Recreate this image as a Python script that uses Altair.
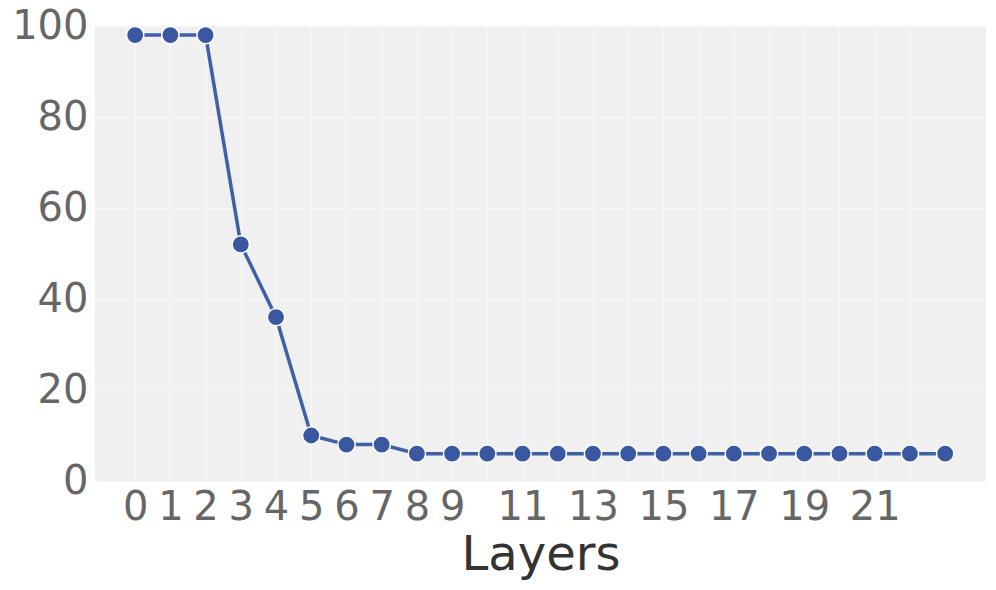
import altair as alt
import pandas as pd

layers = list(range(24))
values = [98, 98, 98, 52, 36, 10, 8, 8, 6, 6, 6, 6, 6, 6, 6, 6, 6, 6, 6, 6, 6, 6, 6, 6]
grid_x = list(range(23))
x_tick_labels = [0, 1, 2, 3, 4, 5, 6, 7, 8, 9, 11, 13, 15, 17, 19, 21]
y_ticks = [0, 20, 40, 60, 80, 100]

df = pd.DataFrame({"Layers": layers, "value": values})

label_list = ",".join(str(v) for v in x_tick_labels)
label_expr = f"indexof([{label_list}], datum.value) >= 0 ? datum.label : ''"

FONT = "DejaVu Sans"
LINE_COLOR = "#4060a6"
MARK_COLOR = "#3a58a2"

x_enc = alt.X(
    "Layers:Q",
    scale=alt.Scale(domain=[-1.14, 24.16], nice=False, zero=False),
    axis=alt.Axis(
        values=grid_x,
        labelExpr=label_expr,
        title="Layers",
        grid=True,
        labelFlush=False,
        labelOverlap=False,
    ),
)
y_enc = alt.Y(
    "value:Q",
    scale=alt.Scale(domain=[0, 100], nice=False),
    axis=alt.Axis(values=y_ticks, title=None, grid=True),
)

line = alt.Chart(df).mark_line(color=LINE_COLOR, strokeWidth=3.5).encode(x=x_enc, y=y_enc)
points = alt.Chart(df).mark_point(
    shape="circle", filled=True, size=300, fill=MARK_COLOR, stroke="white",
    strokeWidth=1.5, opacity=1,
).encode(x="Layers:Q", y="value:Q")

chart = (
    alt.layer(line, points)
    .properties(
        width=891,
        height=455,
        autosize=alt.AutoSizeParams(type="none"),
        padding={"left": 87, "top": 18, "right": 2, "bottom": 101},
        background="white",
    )
    .configure_view(fill="#f0f0f0", stroke=None)
    .configure_axis(
        labelFont=FONT,
        titleFont=FONT,
        labelFontSize=40,
        labelColor="#666666",
        titleColor="#333333",
        titleFontSize=48,
        titleFontWeight="normal",
        domain=False,
        ticks=False,
        gridColor="#f8f8f8",
        gridWidth=1,
    )
    .configure_axisX(labelPadding=6, titlePadding=4, labelBaseline="top")
    .configure_axisY(labelPadding=7)
)

chart.save("out.html", embed_options={"renderer": "svg", "actions": False})
